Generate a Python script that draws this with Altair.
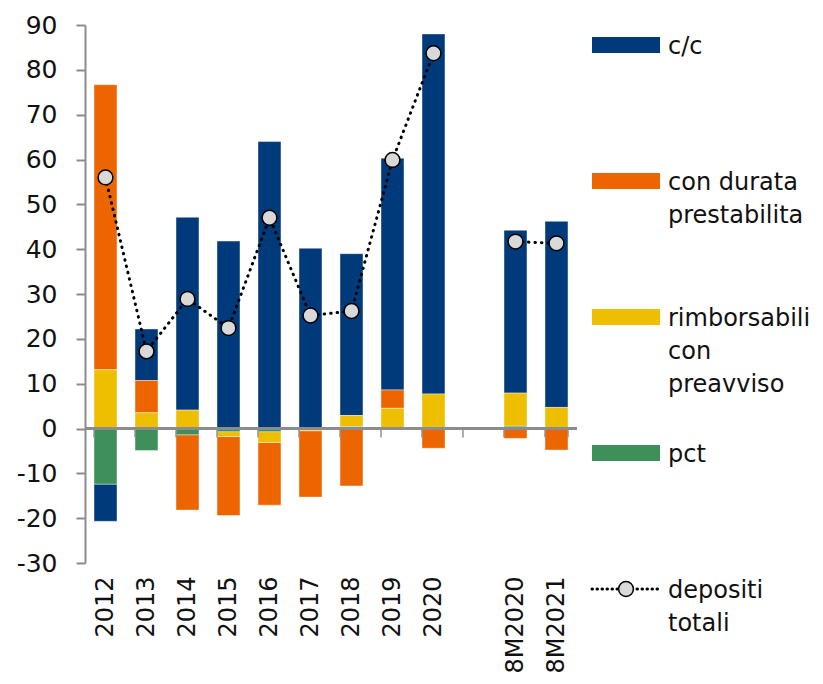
import altair as alt
import pandas as pd

# ---------------- data ----------------
cats = ["2012", "2013", "2014", "2015", "2016", "2017", "2018", "2019", "2020", " ", "8M2020", "8M2021"]
series = ["c/c", "con durata prestabilita", "rimborsabili con preavviso", "pct"]
colors = ["#003A7A", "#EC6500", "#EEBE00", "#3F8F5A"]
stack_rank = [3, 2, 1, 0]

cc = [-8.3, 11.5, 43.0, 41.8, 64.0, 40.2, 36.1, 51.7, 80.3, None, 36.3, 41.5]
durata = [63.6, 7.2, -16.8, -17.6, -14.0, -14.8, -12.8, 4.1, -4.4, None, -2.2, -4.8]
rimb = [13.1, 3.5, 4.1, -1.1, -2.4, -0.3, 2.5, 4.5, 7.7, None, 7.4, 4.7]
pct = [-12.4, -4.9, -1.4, -0.7, -0.7, -0.2, 0.4, -0.3, 0.0, None, 0.5, 0.0]
totale = [56.0, 17.2, 28.9, 22.4, 47.0, 25.2, 26.2, 59.9, 83.7, None, 41.7, 41.3]
segment = ["a", "a", "a", "a", "a", "a", "a", "a", "a", None, "b", "b"]

leg_keys = series + ["depositi totali"]
leg_labels = ["c/c", "con durata\nprestabilita", "rimborsabili\ncon\npreavviso", "pct", "depositi\ntotali"]
leg_kind = ["bar", "bar", "bar", "bar", "line"]
leg_colors = colors + ["#000000"]

# ---------------- tables ----------------
rows = []
for s, vals, rk in zip(series, [cc, durata, rimb, pct], stack_rank):
    for c, v in zip(cats, vals):
        if v is not None:
            rows.append({"cat": c, "series": s, "value": v, "rank": rk})
bars_df = pd.DataFrame(rows)

tot_df = pd.DataFrame({"cat": cats, "total": totale, "seg": segment}).dropna()
tick_df = pd.DataFrame({"cat": cats})
leg_df = pd.DataFrame({"key": leg_keys, "label": leg_labels, "kind": leg_kind, "color": leg_colors})

FONT = "DejaVu Sans"
GRAY = "#8C8C8C"
TXT = "#111111"

xscale = alt.Scale(domain=cats, paddingInner=0.44, paddingOuter=0.22)
yscale = alt.Scale(domain=[-30, 90], nice=False)

xaxis = alt.Axis(title=None, labelAngle=-90, domain=False, ticks=False, tickSize=0,
                 labelPadding=13, labelFontSize=24, labelColor=TXT, labelFont=FONT)
yaxis = alt.Axis(title=None, values=list(range(-30, 91, 10)), grid=False,
                 labelExpr="'' + datum.value",
                 domainColor=GRAY, domainWidth=2, tickColor=GRAY, tickWidth=2, tickSize=9,
                 labelPadding=19, labelFontSize=25, labelColor=TXT, labelFont=FONT)

bars = alt.Chart(bars_df).mark_bar(stroke="white", strokeWidth=0.8, strokeOpacity=0.5).encode(
    x=alt.X("cat:N", scale=xscale, axis=xaxis, sort=cats),
    y=alt.Y("value:Q", stack="zero", scale=yscale, axis=yaxis),
    color=alt.Color("series:N", scale=alt.Scale(domain=series, range=colors), legend=None),
    order=alt.Order("rank:Q"),
)

zero = alt.Chart(tick_df).mark_rule(color=GRAY, strokeWidth=2).encode(y=alt.datum(0))

cat_ticks = alt.Chart(tick_df).mark_tick(orient="vertical", size=9, thickness=2, color=GRAY, yOffset=4.5).encode(
    x=alt.X("cat:N", bandPosition=0, sort=cats),
    y=alt.datum(0),
)
end_tick = alt.Chart(tick_df.tail(1)).mark_tick(orient="vertical", size=9, thickness=2, color=GRAY, yOffset=4.5).encode(
    x=alt.X("cat:N", bandPosition=1, sort=cats),
    y=alt.datum(0),
)

line = alt.Chart(tot_df).mark_line(color="black", strokeWidth=3, strokeDash=[0.5, 6], strokeCap="round").encode(
    x=alt.X("cat:N", sort=cats),
    y=alt.Y("total:Q"),
    detail="seg:N",
)
points = alt.Chart(tot_df).mark_point(shape="circle", filled=True, fill="#D9D9D9", stroke="black",
                                      strokeWidth=1.5, size=220, opacity=1).encode(
    x=alt.X("cat:N", sort=cats),
    y=alt.Y("total:Q"),
)

main = alt.layer(bars, zero, cat_ticks, end_tick, line, points).properties(width=492, height=538)

# ---------------- legend panel ----------------
ly = alt.Y("key:N", sort=leg_keys, scale=alt.Scale(type="point", padding=0.147), axis=None)

swatch = alt.Chart(leg_df).transform_filter(alt.datum.kind == "bar").mark_rule(strokeWidth=16, strokeCap="butt").encode(
    x=alt.value(14), x2=alt.value(82), y=ly, color=alt.Color("color:N", scale=None)
)
leg_line = alt.Chart(leg_df).transform_filter(alt.datum.kind == "line").mark_rule(
    color="black", strokeWidth=3, strokeDash=[0.5, 4.5], strokeCap="round").encode(
    x=alt.value(14), x2=alt.value(82), y=ly
)
leg_pt = alt.Chart(leg_df).transform_filter(alt.datum.kind == "line").mark_point(
    shape="circle", filled=True, fill="#D9D9D9", stroke="black", strokeWidth=1.5, size=220, opacity=1).encode(
    x=alt.value(48), y=ly
)
leg_text = alt.Chart(leg_df).mark_text(align="left", baseline="alphabetic", dy=9, fontSize=24, lineHeight=33,
                                       lineBreak="\n", color=TXT, font=FONT).encode(
    x=alt.value(90), y=ly, text="label:N"
)
legend = alt.layer(swatch, leg_line, leg_pt, leg_text).properties(width=228, height=584)

chart = alt.hconcat(main, legend, spacing=0).properties(
    padding={"left": 8, "top": 5, "right": 0, "bottom": 0}
).configure(font=FONT).configure_view(stroke=None)

chart.save("out.html", embed_options={"renderer": "svg", "actions": False})
